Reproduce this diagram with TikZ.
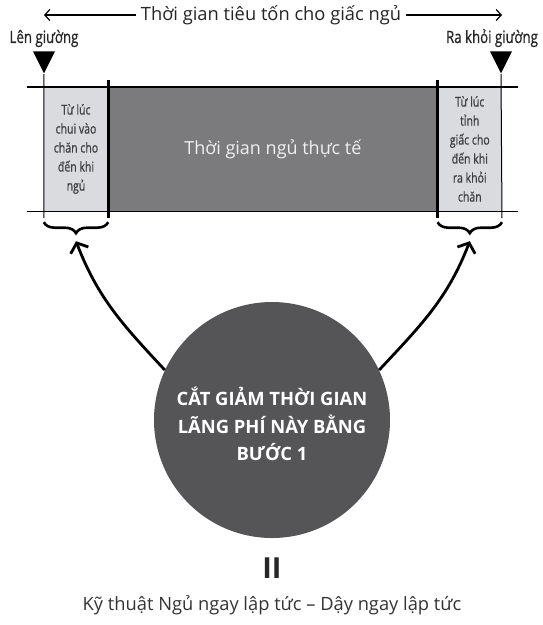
\documentclass[tikz,border=0pt]{standalone}
\usepackage{fontspec}
\setmainfont{Open Sans}
\newfontfamily\narrowfont[FakeStretch=0.78,FakeBold=0.8]{Open Sans}
\usetikzlibrary{arrows.meta, positioning, shapes.geometric, decorations.pathreplacing}
\definecolor{sleepgray}{HTML}{7B7B7D}
\definecolor{lightbox}{HTML}{D9DBDE}
\definecolor{circgray}{HTML}{555558}

\begin{document}
\begin{tikzpicture}[x=1pt,y=1pt,>={Straight Barb[length=5pt,width=11pt]},
                    box/.style={inner sep=0pt,minimum height=124pt},
                    side/.style={font=\narrowfont\fontsize{13.5}{19}\selectfont,align=center,text=black!75},
                    bed/.style={font=\narrowfont\fontsize{17}{20}\selectfont,text=black!85,inner sep=0pt},
                    tri/.style={isosceles triangle,isosceles triangle stretches,shape border rotate=-90,
                                fill=black,inner sep=0pt,minimum width=22pt,minimum height=22pt,anchor=apex},
                    brc/.style={decorate,decoration={brace,mirror,amplitude=11pt},line width=2.6pt},
                    bigarrow/.style={line width=2.8pt,-{Straight Barb[length=8pt,width=19pt]}}]
    \useasboundingbox (0,0) rectangle (543,-625);
    \node[box, side, fill=lightbox, minimum width=64pt]        (inb)  at (76,-149)   {Từ lúc\\chui vào\\chăn cho\\đến khi\\ngủ};
    \node[box, fill=sleepgray, minimum width=329pt, right=0pt of inb,
          text=white!88!gray, font=\fontsize{18}{20}\selectfont] (act)                {Thời gian ngủ thực tế};
    \node[box, side, fill=lightbox, minimum width=64pt, right=0pt of act] (outb)      {Từ lúc\\tỉnh\\giấc cho\\đến khi\\ra khỏi\\chăn};
    \node[tri]                                                 (lt)   at (44,-74)    {};
    \node[tri]                                                 (rt)   at (501,-74)   {};
    \node[bed, above=4pt of lt]                                (inbed)               {Lên giường};
    \node[bed, above=4pt of rt, xshift=-9pt]                   (outbed)              {Ra khỏi giường};
    \node[fill=white, inner xsep=5pt, text=black!85,
          font=\fontsize{18.3}{20}\selectfont]                 (total) at (271,-15)  {Thời gian tiêu tốn cho giấc ngủ};
    \coordinate                                                (tl)   at (44,-15);
    \coordinate                                                (tr)   at (502,-15);
    \draw[->, line width=1.2pt] (total) -- (tl);
    \draw[->, line width=1.2pt] (total) -- (tr);
    \draw[line width=1.4pt] ([xshift=-17pt]inb.north west) -- ([xshift=16pt]outb.north east);
    \draw[line width=1.4pt] ([xshift=-17pt]inb.south west) -- ([xshift=16pt]outb.south east);
    \draw[line width=1pt]   (lt.apex)                     -- ([yshift=-7pt]inb.south west);
    \draw[line width=1pt]   (rt.apex)                     -- ([yshift=-7pt]outb.south east);
    \draw[line width=3pt]   ([yshift=7pt]inb.north east)  -- ([yshift=-7pt]inb.south east);
    \draw[line width=3pt]   ([yshift=7pt]outb.north west) -- ([yshift=-7pt]outb.south west);
    \draw[brc] ([yshift=-11pt]inb.south west)  -- ([yshift=-11pt]inb.south east);
    \draw[brc] ([yshift=-11pt]outb.south west) -- ([yshift=-11pt]outb.south east);
    \coordinate                                                (lb)   at ([yshift=-30pt]inb.south);
    \coordinate                                                (rb)   at ([yshift=-30pt]outb.south);
    \node[circle, fill=circgray, minimum size=236pt, inner sep=0pt] (circ) at (272,-420) {};
    \node[text=white, align=center, font=\bfseries\fontsize{18.4}{27.5}\selectfont]
                                                               (step1) at (272,-424) {CẮT GIẢM THỜI GIAN\\LÃNG PHÍ NÀY BẰNG\\BƯỚC 1};
    \path[bigarrow] (circ.155) edge[out=133, in=-69]  (lb);
    \path[bigarrow] (circ.25)  edge[out=47,  in=-111] (rb);
    \node[font=\bfseries\fontsize{29}{29}\selectfont, text=black!85] (eq) at (272,-568) {II};
    \node[font=\fontsize{18.3}{20}\selectfont, text=black!80]  (tech) at (272,-605)  {Kỹ thuật Ngủ ngay lập tức – Dậy ngay lập tức};
\end{tikzpicture}
\end{document}
